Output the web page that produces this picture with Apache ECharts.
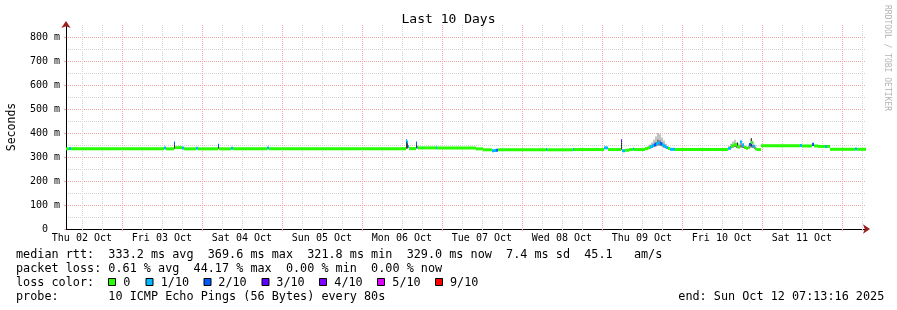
<!DOCTYPE html>
<html><head><meta charset="utf-8">
<script src="https://cdn.jsdelivr.net/npm/echarts@6/dist/echarts.min.js"></script>
<style>html,body{margin:0;padding:0;background:#fff}#c{width:897px;height:310px}</style>
</head><body><div id="c"></div>
<script>
// ---- data (time in hours after the graph start, Thu 02 Oct 2025 07:13:16) ----
const START = new Date(2025, 9, 2, 7, 13, 16);
const SPAN_HOURS = 240;
const medianHour = [0,0.9,1.5,29.4,30.0,32.4,32.7,34.8,35.4,39.0,39.6,45.6,45.9,49.5,50.1,60.3,60.9,
  102.0,102.3,102.6,102.9,105.0,105.3,105.6,111.0,111.3,123.0,125.1,127.8,128.4,129.0,129.6,144.0,144.3,
  152.1,152.4,161.4,162.6,166.5,166.8,167.7,168.9,170.1,170.4,173.7,174.6,175.2,175.8,176.4,177.0,177.6,
  178.2,178.8,179.4,180.0,180.6,181.2,182.7,198.6,199.5,200.4,201.3,202.2,202.8,203.4,204.0,204.6,204.9,
  205.5,206.1,206.7,207.3,208.5,220.2,220.8,223.8,224.4,225.6,227.7,228.3,229.2,236.7,237.3];
const medianMs = [334,335,334,338,334,358,339,337,334,336,334,349,334,336,334,338,334,
  369,362,344,335,358,341,338,339,338,334,330,326,327,328,330,331,330,
  331,331,338,331,368,326,328,331,333,331,335,339,343,347,351,355,359,
  355,350,345,340,335,332,331,336,346,352,342,362,350,340,336,340,352,
  360,345,333,331,347,348,346,353,346,344,344,344,332,333,332];
const medianLoss = [0,1,0,1,0,2,0,1,0,1,0,2,0,1,0,1,0,
  1,1,1,0,2,1,0,1,0,0,0,1,1,2,0,1,0,
  1,0,1,0,4,1,0,0,1,0,0,0,1,1,2,1,1,
  2,1,1,1,0,1,0,1,0,0,0,1,1,0,0,0,2,
  0,1,0,0,0,1,0,2,0,0,1,0,0,1,0];
// single-column smoke spikes
const spikeStart = [32.4,45.6,102.0,102.3,105.0,166.5,201.3,205.5,223.8];
const spikeEnd   = [32.7,45.9,102.3,102.6,105.3,166.8,201.6,205.8,224.4];
const spikeLo    = [334,334,334,335,335,330,338,345,346];
const spikeHi    = [358,350,375,366,362,369,360,378,356];
// smoke columns in the two busy periods
const smokeHour = [173.7,174.3,174.9,175.5,176.1,176.7,177.3,177.9,178.5,179.1,179.7,180.3,180.9,
  198.6,199.2,199.8,200.4,201.0,201.6,202.2,202.8,203.4,204.0,204.6,205.2,205.8,206.4];
const smokeLo = [333,333,335,338,342,345,348,348,345,340,336,333,332,
  333,336,340,342,338,336,340,338,335,333,335,340,338,333];
const smokeHi = [340,345,352,360,372,385,400,395,380,368,355,345,338,
  345,355,365,372,360,356,368,358,348,345,352,378,365,350];
const SMOKE_STEP = 0.6;
const yLabelValues = [0,100,200,300,400,500,600,700,800];
const lossLevels = [0,1,2,3,4,5,9];
const lossNames = ['0','1/10','2/10','3/10','4/10','5/10','9/10'];
const lossColors = ['#26ff00','#00b8ff','#0059ff','#5e00ff','#7e00ff','#dd00ff','#ff0000'];
const rttLine = 'median rtt:  333.2 ms avg  369.6 ms max  321.8 ms min  329.0 ms now  7.4 ms sd  45.1   am/s';
const lossLine = 'packet loss: 0.61 % avg  44.17 % max  0.00 % min  0.00 % now';
const probeLine = 'probe:       10 ICMP Echo Pings (56 Bytes) every 80s';
const endText = 'end: Sun Oct 12 07:13:16 2025';

// ---- layout / build ----
const MONO = 'DejaVu Sans Mono';
const HMS = 3600e3;
const PLOT_LEFT = 66, PLOT_TOP = 25, PLOT_W = 800, PLOT_H = 204;
const PX_PER_H = PLOT_W / SPAN_HOURS;
const hourOf = d => (d - START) / HMS;
const startSinceMidnight = -hourOf(new Date(2025, 9, 2, 0, 0, 0));
const firstMidnight = hourOf(new Date(2025, 9, 3, 0, 0, 0));
const noonTicks = [], allTicks = [], majorTicks = [];
for (let k = -4; ; k++) {
  const h = firstMidnight + 6 * k;
  if (h > SPAN_HOURS) break;
  if (h <= 0) continue;
  const m = ((k % 4) + 4) % 4;
  allTicks.push(h);
  if (m === 0) majorTicks.push(h);
  if (m === 2) noonTicks.push(h);
}
const DAYS = ['Sun','Mon','Tue','Wed','Thu','Fri','Sat'];
const MONTHS = ['Jan','Feb','Mar','Apr','May','Jun','Jul','Aug','Sep','Oct','Nov','Dec'];
const fmtDay = h => {
  const d = new Date(START.getTime() + h * HMS);
  return DAYS[d.getDay()] + ' ' + String(d.getDate()).padStart(2, '0') + ' ' + MONTHS[d.getMonth()];
};
const colorOfLoss = l => lossColors[Math.max(0, lossLevels.indexOf(l))];

const medianData = medianHour.map((h, i) => [h, i + 1 < medianHour.length ? medianHour[i + 1] : SPAN_HOURS, medianMs[i], medianLoss[i]]);
const spikeData = spikeStart.map((h, i) => [h, spikeEnd[i], spikeLo[i], spikeHi[i]]);
const smokeData = smokeHour.map((h, i) => [h, h + SMOKE_STEP, smokeLo[i], smokeHi[i]]);

const GRID_MINOR = '#d2d2d2';
const GRID_MAJOR = '#f4a6a6';
const ARROW = '#9b1c1c';

const hidden = {axisLine:{show:false,onZero:false}, axisTick:{show:false}, axisLabel:{show:false}, splitLine:{show:false}};
const gridBox = left => ({left, top:PLOT_TOP, width:PLOT_W, height:PLOT_H, containLabel:false, outerBoundsMode:'none'});

function rectItem(fill) {
  return function (params, api) {
    const a = api.coord([api.value(0), api.value(2)]);
    const b = api.coord([api.value(1), api.value(3)]);
    return {type:'rect', shape:{x:a[0], y:b[1], width:Math.max(1, b[0] - a[0]), height:Math.max(1, a[1] - b[1])},
      style:{fill}};
  };
}

const graphics = [];
const FONT = '11.8px "' + MONO + '"';
const txt = (x, y, s, align) => graphics.push({type:'text', x, y,
  style:{text:s, font:FONT, fill:'#000', textVerticalAlign:'middle', textAlign:align || 'left'}});
txt(16, 254.5, rttLine);
txt(16, 268.5, lossLine);
txt(16, 282.5, 'loss color:');
const swatchX = [108.5, 146, 204, 262, 319.5, 377.5, 435.5];
const labelX = [123.3, 160.7, 218.3, 276.3, 334.3, 392.3, 450];
lossNames.forEach((n, i) => {
  graphics.push({type:'rect', shape:{x:swatchX[i], y:278.5, width:7, height:7},
    style:{fill:lossColors[i], stroke:'#000', lineWidth:1}});
  txt(labelX[i], 282.5, n);
});
txt(16, 296.5, probeLine);
txt(678.3, 296.5, endText);
graphics.push({type:'text', x:887, y:5, rotation:-Math.PI / 2,
  style:{text:'RRDTOOL / TOBI OETIKER', font:'8px "' + MONO + '"', fill:'#b4b4b4', textAlign:'left', textVerticalAlign:'middle'}});

const chart = echarts.init(document.getElementById('c'), null, {renderer:'canvas', width:897, height:310});
chart.setOption({
  animation:false,
  backgroundColor:'#fff',
  title:{text:'Last 10 Days', left:'center', top:8,
    textStyle:{fontFamily:MONO, fontSize:13, fontWeight:'normal', color:'#000'}},
  grid:[
    gridBox(PLOT_LEFT),
    gridBox(PLOT_LEFT - (startSinceMidnight - 6) * PX_PER_H),
    gridBox(PLOT_LEFT - startSinceMidnight * PX_PER_H)
  ],
  xAxis:[
    Object.assign({type:'value', min:0, max:SPAN_HOURS, gridIndex:0, position:'bottom'}, hidden, {
      axisLine:{show:true, onZero:false, lineStyle:{color:'#000', width:1}},
      axisTick:{show:true, customValues:allTicks, length:2, lineStyle:{color:GRID_MINOR}},
      axisLabel:{show:true, customValues:noonTicks, formatter:fmtDay, fontFamily:MONO, fontSize:10, color:'#000', margin:4}}),
    Object.assign({type:'value', min:0, max:SPAN_HOURS, gridIndex:0, position:'bottom'}, hidden, {
      axisTick:{show:true, customValues:majorTicks, length:2, lineStyle:{color:GRID_MAJOR}}}),
    Object.assign({type:'value', min:0, max:SPAN_HOURS, gridIndex:0, position:'bottom'}, hidden, {
      axisLine:{show:true, onZero:false, lineStyle:{color:ARROW, width:0},
        symbol:['none','arrow'], symbolSize:[7,7], symbolOffset:[0,4]}}),
    Object.assign({type:'value', min:6, max:6 + SPAN_HOURS, interval:6, gridIndex:1, position:'bottom'}, hidden, {
      splitLine:{show:true, showMinLine:false, showMaxLine:true, lineStyle:{color:GRID_MINOR, type:[1,1], width:1}}}),
    Object.assign({type:'value', min:0, max:SPAN_HOURS, interval:24, gridIndex:2, position:'bottom'}, hidden, {
      splitLine:{show:true, showMinLine:false, showMaxLine:true, lineStyle:{color:GRID_MAJOR, type:[1,1], width:1}}})
  ],
  yAxis:[
    Object.assign({type:'value', min:0, max:850, interval:50, gridIndex:0, position:'left'}, hidden, {
      splitLine:{show:true, showMinLine:false, showMaxLine:false, lineStyle:{color:GRID_MINOR, type:[1,1], width:1}}}),
    Object.assign({type:'value', min:0, max:850, interval:100, gridIndex:0, position:'left'}, hidden, {
      splitLine:{show:true, showMinLine:false, showMaxLine:false, lineStyle:{color:GRID_MAJOR, type:[1,1], width:1}},
      axisTick:{show:true, length:2, lineStyle:{color:GRID_MAJOR}}}),
    Object.assign({type:'value', min:0, max:850, gridIndex:0, position:'left'}, hidden, {
      axisLine:{show:true, onZero:false, lineStyle:{color:'#000', width:1}},
      axisLabel:{show:true, customValues:yLabelValues, formatter:v => v === 0 ? '0  ' : v + ' m',
        fontFamily:MONO, fontSize:10, color:'#000', margin:6},
      name:'Seconds', nameLocation:'middle', nameGap:48, nameRotate:90,
      nameTextStyle:{fontFamily:MONO, fontSize:11.5, color:'#000'}}),
    Object.assign({type:'value', min:0, max:850, gridIndex:0, position:'left'}, hidden, {
      axisLine:{show:true, onZero:false, lineStyle:{color:ARROW, width:0},
        symbol:['none','arrow'], symbolSize:[7,7], symbolOffset:[0,4]}}),
    Object.assign({type:'value', min:0, max:850, gridIndex:1}, hidden),
    Object.assign({type:'value', min:0, max:850, gridIndex:2}, hidden)
  ],
  series:[
    {type:'custom', name:'smoke', xAxisIndex:0, yAxisIndex:2, z:3, clip:true, data:smokeData,
      encode:{x:[0,1], y:[2,3]}, renderItem:rectItem('#c2c2c2')},
    {type:'custom', name:'smokeCore', xAxisIndex:0, yAxisIndex:2, z:4, clip:true,
      data:smokeData.map(d => [d[0], d[1], d[2], d[2] + (d[3] - d[2]) * 0.45]),
      encode:{x:[0,1], y:[2,3]}, renderItem:rectItem('#7e7e7e')},
    {type:'custom', name:'spikes', xAxisIndex:0, yAxisIndex:2, z:4, clip:true, data:spikeData,
      encode:{x:[0,1], y:[2,3]}, renderItem:rectItem('#3a3a3a')},
    {type:'custom', name:'median', xAxisIndex:0, yAxisIndex:2, z:5, clip:true, data:medianData,
      encode:{x:[0,1], y:2},
      renderItem:function (params, api) {
        const a = api.coord([api.value(0), api.value(2)]);
        const b = api.coord([api.value(1), api.value(2)]);
        return {type:'rect', shape:{x:a[0], y:a[1] - 1.5, width:Math.max(1, b[0] - a[0]), height:3},
          style:{fill:colorOfLoss(api.value(3))}};
      }}
  ],
  graphic:graphics
});
</script></body></html>
